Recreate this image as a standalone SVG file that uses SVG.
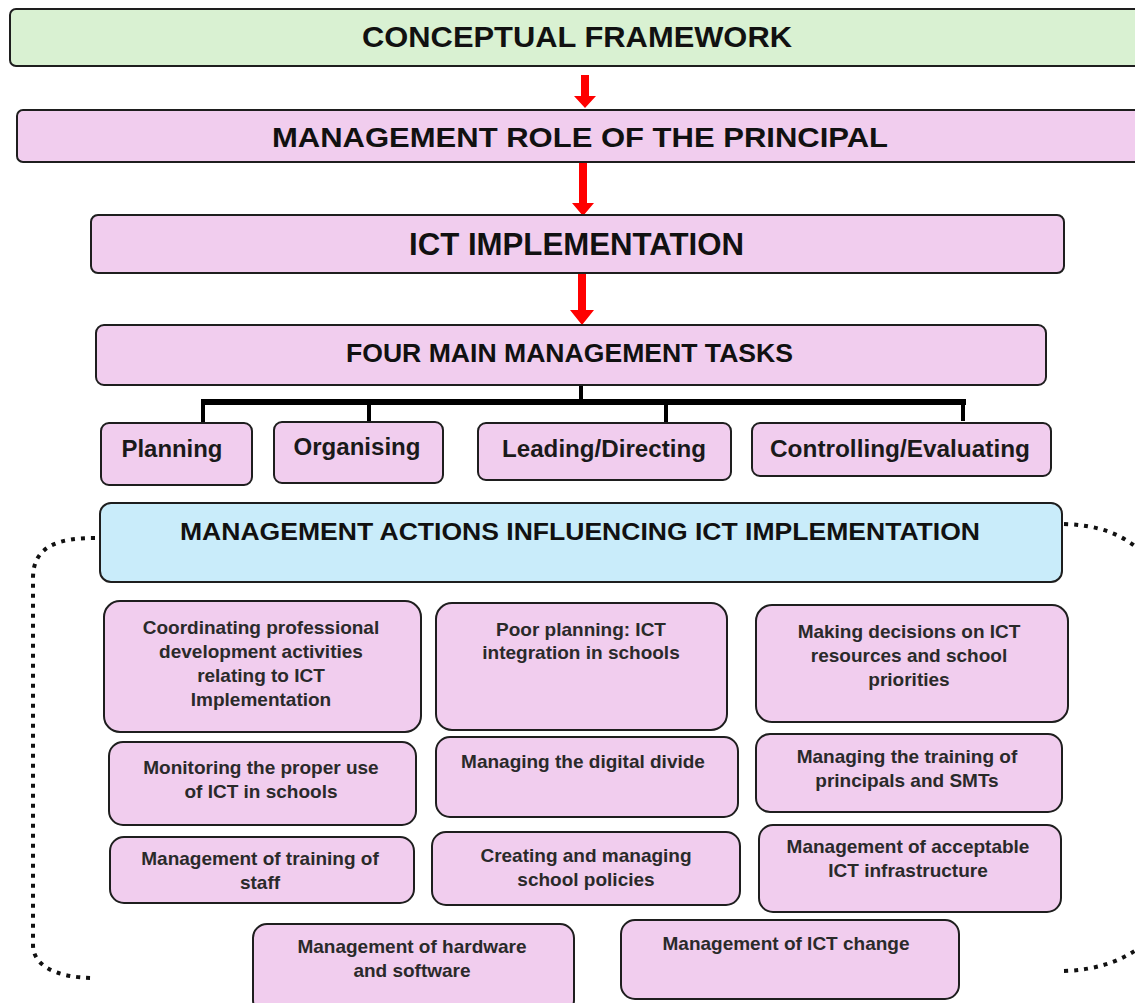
<svg xmlns="http://www.w3.org/2000/svg" width="1135" height="1003" viewBox="0 0 1135 1003">
<style>
  .box { stroke: #1e1e1e; stroke-width: 2; }
  .green { fill: #d9f1d2; }
  .pink { fill: #f1cdee; }
  .blue { fill: #c9ecfa; }
  .title { font-family: "Liberation Sans", Arial, sans-serif; font-weight: bold; fill: #111; text-anchor: middle; }
  .task { font-family: "Liberation Sans", Arial, sans-serif; font-weight: bold; font-size: 23px; fill: #1a1a1a; text-anchor: middle; }
  .item { font-family: "Liberation Sans", Arial, sans-serif; font-weight: bold; font-size: 19px; fill: #2a2a2a; text-anchor: middle; }
  .tree { stroke: #000; fill: none; }
  .dots { stroke: #111; stroke-width: 4; fill: none; stroke-dasharray: 4 6; }
  .red { fill: #ff0000; }
</style>

<g id="connectors">
  <!-- red arrows -->
  <polygon class="red" points="581,75 589,75 589,96 596,96 585,108 574,96 581,96"/>
  <polygon class="red" points="579,162 587,162 587,203 594,203 583,216 572,203 579,203"/>
  <polygon class="red" points="578,272 586,272 586,310 594,310 582,325 570,310 578,310"/>
  <!-- tree -->
  <line class="tree" x1="581" y1="385" x2="581" y2="402" stroke-width="4"/>
  <line class="tree" x1="201" y1="402" x2="966" y2="402" stroke-width="6"/>
  <line class="tree" x1="203" y1="402" x2="203" y2="423" stroke-width="4"/>
  <line class="tree" x1="369" y1="402" x2="369" y2="424" stroke-width="4"/>
  <line class="tree" x1="666" y1="402" x2="666" y2="428" stroke-width="4"/>
  <line class="tree" x1="963" y1="402" x2="963" y2="421" stroke-width="4"/>
  <!-- dotted brackets -->
  <path class="dots" d="M 95 538 C 60 538, 33 545, 33 578 L 33 945 C 33 965, 55 978, 95 978"/>
  <path class="dots" d="M 1064 524 C 1095 525, 1120 532, 1142 552"/>
  <path class="dots" d="M 1064 971 C 1095 970, 1120 962, 1142 946"/>
</g>

<g id="node-conceptual">
  <rect class="box green" x="10" y="9" width="1140" height="57" rx="6"/>
  <text class="title" x="577" y="47" font-size="29" textLength="430" lengthAdjust="spacingAndGlyphs">CONCEPTUAL FRAMEWORK</text>
</g>

<g id="node-role">
  <rect class="box pink" x="17" y="110" width="1133" height="52" rx="6"/>
  <text class="title" x="580" y="147" font-size="28" textLength="616" lengthAdjust="spacingAndGlyphs">MANAGEMENT ROLE OF THE PRINCIPAL</text>
</g>

<g id="node-ict">
  <rect class="box pink" x="91" y="215" width="973" height="58" rx="7"/>
  <text class="title" x="576.5" y="255" font-size="31" textLength="335" lengthAdjust="spacingAndGlyphs">ICT IMPLEMENTATION</text>
</g>

<g id="node-four">
  <rect class="box pink" x="96" y="325" width="950" height="60" rx="8"/>
  <text class="title" x="569.5" y="362" font-size="25" textLength="447" lengthAdjust="spacingAndGlyphs">FOUR MAIN MANAGEMENT TASKS</text>
</g>

<g id="node-planning">
  <rect class="box pink" x="101" y="423" width="151" height="62" rx="8"/>
  <text class="task" x="172" y="457" textLength="101" lengthAdjust="spacingAndGlyphs">Planning</text>
</g>
<g id="node-organising">
  <rect class="box pink" x="274" y="422" width="169" height="61" rx="8"/>
  <text class="task" x="357" y="455" textLength="127" lengthAdjust="spacingAndGlyphs">Organising</text>
</g>
<g id="node-leading">
  <rect class="box pink" x="478" y="423" width="253" height="57" rx="8"/>
  <text class="task" x="604" y="457" textLength="204" lengthAdjust="spacingAndGlyphs">Leading/Directing</text>
</g>
<g id="node-controlling">
  <rect class="box pink" x="752" y="423" width="299" height="53" rx="8"/>
  <text class="task" x="900" y="457" textLength="260" lengthAdjust="spacingAndGlyphs">Controlling/Evaluating</text>
</g>

<g id="node-actions">
  <rect class="box blue" x="100" y="503" width="962" height="79" rx="11"/>
  <text class="title" x="580" y="540" font-size="23" textLength="800" lengthAdjust="spacingAndGlyphs">MANAGEMENT ACTIONS INFLUENCING ICT IMPLEMENTATION</text>
</g>

<g id="node-coordinating">
  <rect class="box pink" x="104" y="601" width="317" height="131" rx="16"/>
  <text class="item" x="261"><tspan x="261" y="634">Coordinating professional</tspan><tspan x="261" y="658">development activities</tspan><tspan x="261" y="682">relating to ICT</tspan><tspan x="261" y="706">Implementation</tspan></text>
</g>
<g id="node-poor-planning">
  <rect class="box pink" x="436" y="603" width="291" height="127" rx="16"/>
  <text class="item" x="581"><tspan x="581" y="636">Poor planning: ICT</tspan><tspan x="581" y="659">integration in schools</tspan></text>
</g>
<g id="node-decisions">
  <rect class="box pink" x="756" y="605" width="312" height="117" rx="16"/>
  <text class="item" x="909"><tspan x="909" y="638">Making decisions on ICT</tspan><tspan x="909" y="662">resources and school</tspan><tspan x="909" y="686">priorities</tspan></text>
</g>

<g id="node-monitoring">
  <rect class="box pink" x="109" y="742" width="307" height="83" rx="14"/>
  <text class="item" x="261"><tspan x="261" y="774">Monitoring the proper use</tspan><tspan x="261" y="798">of ICT in schools</tspan></text>
</g>
<g id="node-digital-divide">
  <rect class="box pink" x="436" y="737" width="302" height="80" rx="14"/>
  <text class="item" x="583" y="768">Managing the digital divide</text>
</g>
<g id="node-training-principals">
  <rect class="box pink" x="756" y="734" width="306" height="78" rx="14"/>
  <text class="item" x="907"><tspan x="907" y="763">Managing the training of</tspan><tspan x="907" y="787">principals and SMTs</tspan></text>
</g>

<g id="node-training-staff">
  <rect class="box pink" x="110" y="837" width="304" height="66" rx="14"/>
  <text class="item" x="260"><tspan x="260" y="865">Management of training of</tspan><tspan x="260" y="889">staff</tspan></text>
</g>
<g id="node-policies">
  <rect class="box pink" x="432" y="832" width="308" height="73" rx="14"/>
  <text class="item" x="586"><tspan x="586" y="862">Creating and managing</tspan><tspan x="586" y="886">school policies</tspan></text>
</g>
<g id="node-infrastructure">
  <rect class="box pink" x="759" y="825" width="302" height="87" rx="14"/>
  <text class="item" x="908"><tspan x="908" y="853">Management of acceptable</tspan><tspan x="908" y="877">ICT infrastructure</tspan></text>
</g>

<g id="node-hardware">
  <rect class="box pink" x="253" y="924" width="321" height="90" rx="14"/>
  <text class="item" x="412"><tspan x="412" y="953">Management of hardware</tspan><tspan x="412" y="977">and software</tspan></text>
</g>
<g id="node-ict-change">
  <rect class="box pink" x="621" y="920" width="338" height="79" rx="14"/>
  <text class="item" x="786" y="950">Management of ICT change</text>
</g>
</svg>
